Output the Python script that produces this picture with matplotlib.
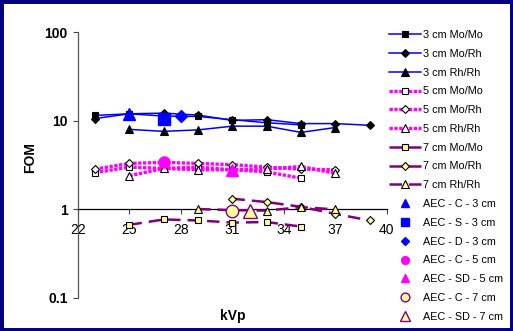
import matplotlib
matplotlib.use("Agg")
import matplotlib.pyplot as plt
from matplotlib.patches import Rectangle
from matplotlib.lines import Line2D

plt.rcParams["font.family"] = ["Liberation Sans", "DejaVu Sans"]

# ---- data -------------------------------------------------------------
kvp_3_momo = [23, 25, 27, 29, 31, 33, 35]
fom_3_momo = [11.5, 12.0, 11.3, 11.2, 10.3, 9.5, 9.0]
kvp_3_morh = [23, 25, 27, 29, 31, 33, 35, 37, 39]
fom_3_morh = [10.6, 12.0, 12.2, 11.6, 10.1, 10.3, 9.3, 9.3, 8.9]
kvp_3_rhrh = [25, 27, 29, 31, 33, 35, 37]
fom_3_rhrh = [8.0, 7.6, 7.9, 8.7, 8.7, 7.4, 8.4]

kvp_5_momo = [23, 25, 27, 29, 31, 33, 35]
fom_5_momo = [2.6, 3.0, 2.9, 3.0, 2.8, 2.65, 2.25]
kvp_5_morh = [23, 25, 27, 29, 31, 33, 35, 37]
fom_5_morh = [2.85, 3.3, 3.4, 3.3, 3.2, 3.0, 2.85, 2.8]
kvp_5_rhrh = [25, 27, 29, 31, 33, 35, 37]
fom_5_rhrh = [2.4, 2.9, 2.8, 2.8, 2.85, 3.05, 2.55]

kvp_7_momo = [25, 27, 29, 31, 33, 35]
fom_7_momo = [0.67, 0.77, 0.75, 0.71, 0.72, 0.64]
kvp_7_morh = [31, 33, 35, 37, 39]
fom_7_morh = [1.32, 1.21, 1.07, 0.89, 0.75]
kvp_7_rhrh = [29, 31, 33, 35, 37]
fom_7_rhrh = [1.01, 0.98, 0.97, 1.06, 1.0]

aec_labels = ["AEC - C - 3 cm", "AEC - S - 3 cm", "AEC - D - 3 cm",
              "AEC - C - 5 cm", "AEC - SD - 5 cm", "AEC - C - 7 cm",
              "AEC - SD - 7 cm"]
aec_kvp = [25, 27, 28, 27, 31, 31, 32]
aec_fom = [12.0, 10.6, 11.2, 3.45, 2.75, 0.97, 0.96]

x_ticks = [22, 25, 28, 31, 34, 37, 40]
y_ticks = [0.1, 1, 10, 100]
y_tick_labels = ["0.1", "1", "10", "100"]

# ---- figure -------------------------------------------------------------
fig = plt.figure(figsize=(5.13, 3.31), dpi=100)
ax = fig.add_axes([0.152, 0.0997, 0.602, 0.803])

blue, magenta, purple = "#0000FF", "#FF00FF", "#800080"
yellow = "#FFFF99"

handles = []

def series(x, y, label, color, ls, lw, marker, face, ms):
    line, = ax.plot(x, y, color=color, ls=ls, lw=lw, marker=marker, ms=ms,
                    mfc=face, mec="black", mew=0.8, label=label, zorder=3)
    handles.append(line)

solid = "-"
dotted = (0, (1.0, 0.45))
dashed = (0, (5.0, 2.8))

series(kvp_3_momo, fom_3_momo, "3 cm Mo/Mo", blue, solid, 1.1, "s", "black", 5)
series(kvp_3_morh, fom_3_morh, "3 cm Mo/Rh", blue, solid, 1.1, "D", "black", 4.2)
series(kvp_3_rhrh, fom_3_rhrh, "3 cm Rh/Rh", blue, solid, 1.1, "^", "black", 5.5)
series(kvp_5_momo, fom_5_momo, "5 cm Mo/Mo", magenta, dotted, 2.4, "s", "white", 5)
series(kvp_5_morh, fom_5_morh, "5 cm Mo/Rh", magenta, dotted, 2.4, "D", "white", 4.2)
series(kvp_5_rhrh, fom_5_rhrh, "5 cm Rh/Rh", magenta, dotted, 2.4, "^", "white", 5.5)
series(kvp_7_momo, fom_7_momo, "7 cm Mo/Mo", purple, dashed, 1.8, "s", yellow, 5)
series(kvp_7_morh, fom_7_morh, "7 cm Mo/Rh", purple, dashed, 1.8, "D", yellow, 4.2)
series(kvp_7_rhrh, fom_7_rhrh, "7 cm Rh/Rh", purple, dashed, 1.8, "^", yellow, 5.5)

aec_style = [
    dict(marker="^", mfc=blue, mec=blue, ms=9),
    dict(marker="s", mfc=blue, mec=blue, ms=8),
    dict(marker="D", mfc=blue, mec=blue, ms=6.5),
    dict(marker="o", mfc=magenta, mec=magenta, ms=8),
    dict(marker="^", mfc=magenta, mec=magenta, ms=9),
    dict(marker="o", mfc=yellow, mec=purple, ms=9),
    dict(marker="^", mfc=yellow, mec=purple, ms=10),
]
for lab, xv, yv, st in zip(aec_labels, aec_kvp, aec_fom, aec_style):
    ax.plot([xv], [yv], ls="none", mew=1.0, label=lab, zorder=5, **st)
    # smaller symbol for the key
    key = dict(st)
    key["ms"] = st["ms"] * 0.7
    handles.append(Line2D([], [], ls="none", mew=1.0, label=lab, **key))

# ---- axes ------------------------------------------------------------------
ax.set_yscale("log")
ax.set_ylim(0.1, 100)
ax.set_xlim(22, 40)
ax.set_xticks(x_ticks)
ax.set_xticklabels([str(t) for t in x_ticks], fontsize=10, fontweight="bold")
ax.set_yticks(y_ticks)
ax.set_yticklabels(y_tick_labels, fontsize=10, fontweight="bold")
ax.minorticks_off()
ax.tick_params(axis="y", which="minor", left=False)
ax.tick_params(axis="both", length=3.5, width=0.8, color="#444444")
ax.tick_params(axis="x", pad=6)
ax.tick_params(axis="y", pad=4)

for s in ("top", "right"):
    ax.spines[s].set_visible(False)
ax.spines["bottom"].set_position(("data", 1))
ax.spines["bottom"].set_linewidth(0.9)
ax.spines["left"].set_color("#555555")
ax.spines["left"].set_linewidth(0.9)
ax.patch.set_visible(False)

ax.text(0.5, -0.068, "kVp", transform=ax.transAxes, ha="center", va="center",
        fontsize=10, fontweight="bold")
ax.text(-0.155, 0.53, "FOM", transform=ax.transAxes, ha="center", va="center",
        rotation=90, fontsize=10, fontweight="bold")

fig.legend(handles=handles, loc="upper left",
           bbox_to_anchor=(389 / 513, 1 - 30 / 331),
           frameon=False, fontsize=7.8, handlelength=2.95, handletextpad=0.2,
           labelspacing=0.81, borderpad=0, borderaxespad=0)

# navy frame around the figure
fig.patches.append(Rectangle((0, 0), 1, 1, transform=fig.transFigure,
                             fill=False, edgecolor="#000080", lw=5,
                             zorder=10))

fig.savefig("out.png", dpi=100, facecolor="white")
